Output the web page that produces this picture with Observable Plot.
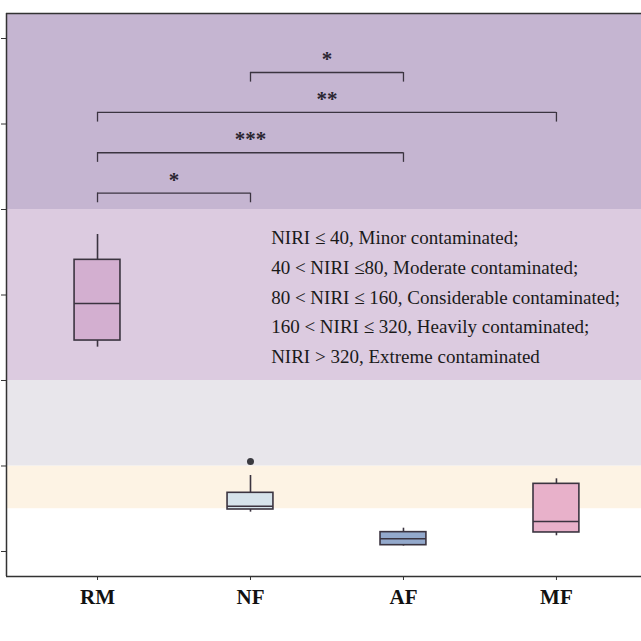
<!DOCTYPE html>
<html><head><meta charset="utf-8">
<script src="https://cdn.jsdelivr.net/npm/d3@7"></script>
<script src="https://cdn.jsdelivr.net/npm/@observablehq/plot@0.6"></script>
<style>body{margin:0;background:#fff;overflow:hidden}</style>
</head><body><div id="chart"></div>
<script>
// ---- data ----
const categories = ["RM", "NF", "AF", "MF"];
const whiskerLow  = [191.2, 36.8, 5.1, 14.7];
const q1          = [197.4, 39.3, 5.9, 17.8];
const median      = [232.0, 42.4, 11.9, 28.1];
const q3          = [272.9, 54.9, 18.1, 63.3];
const whiskerHigh = [296.6, 71.1, 21.8, 68.0];
const boxColors   = ["#d3afd0", "#d6e3eb", "#93a9cc", "#e8b1ca"];

const outlierGroup = ["NF"];
const outlierValue = [84.2];

const yMin = -23.4, yMax = 503.4;
const yTicks = [0, 80, 160, 240, 320, 400, 480];
const bandNames = ["Minor", "Moderate", "Considerable", "Heavily", "Extreme"];
const bandLow   = [yMin, 40, 80, 160, 320];
const bandHigh  = [40, 80, 160, 320, yMax];
const bandColors = ["#ffffff", "#fdf3e4", "#e8e6eb", "#dccbe0", "#c5b5d1"];

const sigFrom  = ["NF", "RM", "RM", "RM"];
const sigTo    = ["AF", "MF", "AF", "NF"];
const sigLevel = [448.2, 410.8, 373.1, 335.3];
const sigLabel = ["*", "**", "***", "*"];
const sigDrop = 9;

const legendLines = [
  "NIRI \u2264 40, Minor contaminated;",
  "40 < NIRI \u226480, Moderate contaminated;",
  "80 < NIRI \u2264 160, Considerable contaminated;",
  "160 < NIRI \u2264 320, Heavily contaminated;",
  "NIRI > 320, Extreme contaminated"
];

// ---- derived tables ----
const xMin = -0.595, xMax = 3.556;
const half = 0.15;
const idx = c => categories.indexOf(c);
const boxes = categories.map((c, i) => ({i, lo: whiskerLow[i], q1: q1[i], med: median[i], q3: q3[i], hi: whiskerHigh[i], color: boxColors[i]}));
const outliers = outlierGroup.map((g, k) => ({i: idx(g), v: outlierValue[k]}));
const bands = bandNames.map((n, k) => ({n, lo: bandLow[k], hi: bandHigh[k], color: bandColors[k]}));
const sig = sigLabel.map((l, k) => ({from: idx(sigFrom[k]), to: idx(sigTo[k]), level: sigLevel[k], label: l}));
const sigEnds = sig.flatMap(d => [{x: d.from, level: d.level}, {x: d.to, level: d.level}]);

const ink = "#3b3440";
const serif = "'Liberation Serif', 'Times New Roman', serif";

const chart = Plot.plot({
  width: 641, height: 641,
  marginTop: 13, marginBottom: 65, marginLeft: 6, marginRight: 0,
  style: {fontFamily: serif, color: "#222", background: "#fff", maxWidth: "none", overflow: "visible"},
  x: {type: "linear", domain: [xMin, xMax], label: null},
  y: {domain: [yMin, yMax], label: null},
  marks: [
    Plot.rect(bands, {y1: "lo", y2: "hi", fill: "color"}),
    // significance brackets
    Plot.ruleY(sig, {y: "level", x1: "from", x2: "to", stroke: ink, strokeWidth: 1.3}),
    Plot.ruleX(sigEnds, {x: "x", y1: d => d.level - sigDrop, y2: "level", stroke: ink, strokeWidth: 1.3}),
    Plot.text(sig, {x: d => (d.from + d.to) / 2, y: "level", text: "label", fontSize: 21, fontWeight: "bold", fill: "#2a2530", dy: -13, fontFamily: serif}),
    // legend text
    Plot.text([legendLines.join("\n")], {x: 1.135, y: 307.4, textAnchor: "start", lineAnchor: "top", lineHeight: 1.566, fontSize: 19, fill: "#1a1a1a", fontFamily: serif}),
    // box plots
    Plot.ruleX(boxes, {x: "i", y1: "q3", y2: "hi", stroke: ink, strokeWidth: 1.6}),
    Plot.ruleX(boxes, {x: "i", y1: "lo", y2: "q1", stroke: ink, strokeWidth: 1.6}),
    Plot.rect(boxes, {x1: d => d.i - half, x2: d => d.i + half, y1: "q1", y2: "q3", fill: "color", stroke: ink, strokeWidth: 1.6}),
    Plot.ruleY(boxes, {y: "med", x1: d => d.i - half, x2: d => d.i + half, stroke: ink, strokeWidth: 1.6}),
    Plot.dot(outliers, {x: "i", y: "v", r: 3.5, fill: "#3a3a40", stroke: null}),
    // axes and frame
    Plot.axisY(yTicks, {tickSize: 5, tickFormat: () => "", label: null, stroke: "#333"}),
    Plot.axisX(categories.map((c, i) => i), {tickFormat: i => categories[i], tickSize: 4, tickPadding: 9, fontSize: 21, fontWeight: "bold", fontFamily: serif, fill: "#111", label: null, stroke: "#333"}),
    Plot.ruleX([xMin], {stroke: "#333", strokeWidth: 1.5}),
    Plot.ruleY([yMin], {stroke: "#333", strokeWidth: 1.5}),
    Plot.ruleY([yMax], {stroke: "#333", strokeWidth: 1.5})
  ]
});
document.getElementById("chart").append(chart);
</script>
</body></html>
